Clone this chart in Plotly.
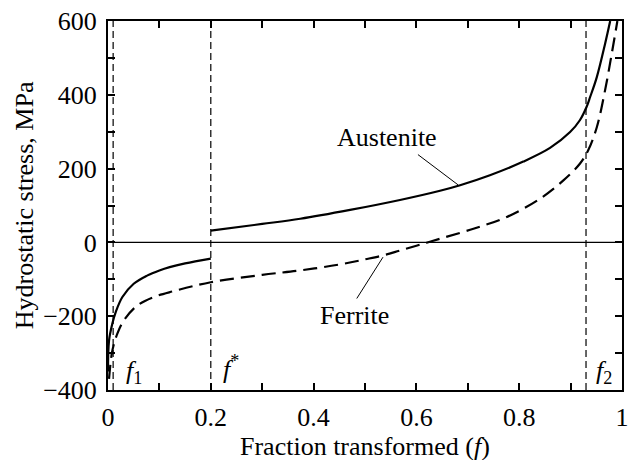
import plotly.graph_objects as go

# ---- data ----
aust_f1 = [0.0, 0.002, 0.0085, 0.015, 0.028, 0.05, 0.076, 0.1, 0.12, 0.15, 0.2]
aust_s1 = [-350, -266, -220, -189, -148, -112, -90, -76, -67, -57, -44]

aust_f2 = [0.2, 0.3, 0.374, 0.471, 0.568, 0.646, 0.685, 0.743, 0.808, 0.86, 0.899, 0.918,
           0.931, 0.938, 0.951, 0.967, 0.977]
aust_s2 = [32, 50, 64, 88, 115, 140, 155, 182, 219, 256, 299, 331,
           367, 394, 448, 538, 600]

fer_f = [0.002, 0.0085, 0.018, 0.031, 0.057, 0.089, 0.128, 0.2, 0.3, 0.374, 0.45, 0.5, 0.536,
         0.568, 0.6, 0.62, 0.646, 0.711, 0.776, 0.84, 0.886, 0.918, 0.934, 0.951, 0.967, 0.98, 0.991]
fer_s = [-370, -293, -248, -211, -171, -148, -132, -108, -88, -76, -60, -46, -35,
         -22, -9, -1, 10, 37, 69, 118, 168, 213, 249, 312, 412, 511, 600]

ref_f = [0.01, 0.2, 0.93]                       # f1, f*, f2 marker lines
ref_labels = ["<i>f</i><sub>1</sub>", "<i>f</i><sup>*</sup>", "<i>f</i><sub>2</sub>"]
ref_label_f = [0.05, 0.24, 0.965]
ref_label_s = [-350, -338, -350]

x_ticks = [0, 0.2, 0.4, 0.6, 0.8, 1]
x_tick_text = ["0", "0.2", "0.4", "0.6", "0.8", "1"]
y_ticks = [-400, -200, 0, 200, 400, 600]

FONT = "Liberation Serif"
FS = 26

fig = go.Figure()

line_style = dict(color="black", width=2.2, shape="spline", smoothing=1.0)
fig.add_trace(go.Scatter(x=aust_f1, y=aust_s1, mode="lines", line=line_style, showlegend=False))
fig.add_trace(go.Scatter(x=aust_f2, y=aust_s2, mode="lines", line=line_style, showlegend=False))
fig.add_trace(go.Scatter(x=fer_f, y=fer_s, mode="lines",
                         line=dict(color="black", width=2.2, dash="14px,7px", shape="spline", smoothing=1.0),
                         showlegend=False))

shapes = []
# zero line
shapes.append(dict(type="line", xref="paper", yref="y", x0=0, x1=1, y0=0, y1=0,
                   line=dict(color="black", width=1.2), layer="below"))
for f in ref_f:
    shapes.append(dict(type="line", xref="x", yref="paper", x0=f, x1=f, y0=0, y1=1,
                       line=dict(color="black", width=1.2, dash="7px,4px"), layer="below"))
# leader lines
aust_leader_f = [0.603, 0.681]
aust_leader_s = [238, 156]
fer_leader_f = [0.535, 0.484]
fer_leader_s = [-40, -152]
shapes.append(dict(type="line", xref="x", yref="y", x0=aust_leader_f[0], x1=aust_leader_f[1],
                   y0=aust_leader_s[0], y1=aust_leader_s[1], line=dict(color="black", width=1)))
shapes.append(dict(type="line", xref="x", yref="y", x0=fer_leader_f[0], x1=fer_leader_f[1],
                   y0=fer_leader_s[0], y1=fer_leader_s[1], line=dict(color="black", width=1)))

annotations = []
annotations.append(dict(text="Austenite", x=0.543, y=285, xref="x", yref="y", showarrow=False,
                        font=dict(family=FONT, size=FS, color="black")))
annotations.append(dict(text="Ferrite", x=0.479, y=-198, xref="x", yref="y", showarrow=False,
                        font=dict(family=FONT, size=FS, color="black")))
for t, fx, sy in zip(ref_labels, ref_label_f, ref_label_s):
    annotations.append(dict(text=t, x=fx, y=sy, xref="x", yref="y", showarrow=False,
                            font=dict(family=FONT, size=FS, color="black")))
annotations.append(dict(text="Fraction transformed (<i>f</i>)", x=0.5, y=-0.152, xref="paper", yref="paper",
                        showarrow=False, yanchor="middle", font=dict(family=FONT, size=FS, color="black")))
annotations.append(dict(text="Hydrostatic stress, MPa", x=-0.162, y=0.5, xref="paper", yref="paper",
                        showarrow=False, textangle=-90, xanchor="center", yanchor="middle",
                        font=dict(family=FONT, size=FS, color="black")))

axis_common = dict(showgrid=False, zeroline=False, showline=True, linecolor="black", linewidth=2,
                   mirror="ticks", ticks="inside", ticklen=7, tickwidth=1.5, tickcolor="black",
                   automargin=False,
                   tickfont=dict(family=FONT, size=FS, color="black"))

fig.update_layout(
    width=630, height=460,
    margin=dict(l=108, r=8, t=21, b=70),
    paper_bgcolor="white", plot_bgcolor="white",
    shapes=shapes, annotations=annotations,
    xaxis=dict(range=[0, 1], tickvals=x_ticks, ticktext=x_tick_text, ticklabelstandoff=3,
               minor=dict(dtick=0.1, ticks="inside", ticklen=7, tickwidth=1.5, tickcolor="black"),
               **axis_common),
    yaxis=dict(range=[-400, 600], tickvals=y_ticks, ticklabelstandoff=4,
               minor=dict(dtick=100, ticks="inside", ticklen=7, tickwidth=1.5, tickcolor="black"),
               **axis_common),
)

fig.write_html("out.html", config={"displayModeBar": False},
               post_script="document.body.style.margin='0';document.body.style.overflow='hidden';")
